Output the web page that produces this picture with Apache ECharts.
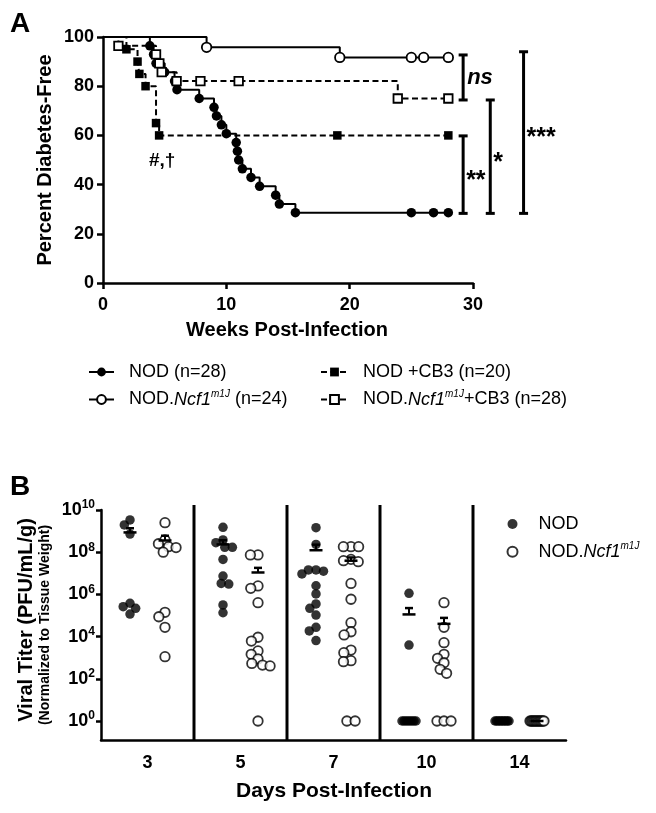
<!DOCTYPE html>
<html><head><meta charset="utf-8">
<script src="https://cdn.jsdelivr.net/npm/echarts@6/dist/echarts.min.js"></script>
<style>html,body{margin:0;padding:0;background:#fff}#c{width:656px;height:813px}</style>
</head><body><div id="c"></div>
<script>
const FONT = "'Liberation Sans', Arial, Helvetica, sans-serif";

// ---------- Panel A: Kaplan-Meier (weeks post-infection, percent diabetes-free) ----------
const nodWeeks    = [0, 3.8, 4.1, 4.3, 5.0, 5.8, 6.0, 7.8, 9.0, 9.2, 9.6, 10.0, 10.8, 10.9, 11.0, 11.3, 12.0, 12.7, 14.0, 14.3, 15.6, 25.0, 26.8, 28.0];
const nodPct      = [100, 96.4, 92.9, 89.3, 85.7, 82.1, 78.6, 75.0, 71.4, 67.9, 64.3, 60.7, 57.1, 53.6, 50.0, 46.4, 42.9, 39.3, 35.7, 32.1, 28.6, 28.6, 28.6, 28.6];
const ncfWeeks    = [0, 8.4, 19.2, 25.0, 26.0, 28.0];
const ncfPct      = [100, 95.8, 91.7, 91.7, 91.7, 91.7];
const nodCb3Weeks = [0, 1.9, 2.8, 2.95, 3.45, 4.3, 4.55, 19.0, 28.0];
const nodCb3Pct   = [100, 95, 90, 85, 80, 65, 60, 60, 60];
const ncfCb3Weeks = [0, 1.25, 4.3, 4.57, 4.76, 5.97, 7.9, 11.0, 23.9, 28.0];
const ncfCb3Pct   = [100, 96.4, 92.9, 89.3, 85.7, 82.1, 82.1, 82.1, 75.0, 75.0];
const kmNames = ['NOD (n=28)', 'NOD.Ncf1m1J (n=24)', 'NOD +CB3 (n=20)', 'NOD.Ncf1m1J+CB3 (n=28)'];
const weekTicks = [0, 10, 20, 30];
const pctTicks = [0, 20, 40, 60, 80, 100];
// significance brackets (x in weeks, top/bottom in percent)
const sigX      = [29.2, 29.2, 31.4, 34.1];
const sigTop    = [92.7, 59.8, 74.4, 94.0];
const sigBottom = [74.4, 28.3, 28.3, 28.3];
const sigLabels = ['ns', '**', '*', '***'];
const noteText = '#,\u2020', noteWeek = 4.8, notePct = 49.6;

// ---------- Panel B: viral titer, log10(PFU/mL/g) ----------
const days = ['3', '5', '7', '10', '14'];
const nodLogTiter = [
  [9.53, 9.29, 8.86, 5.58, 5.42, 5.34, 5.07],
  [9.18, 8.58, 8.45, 8.23, 8.23, 7.66, 6.87, 6.52, 6.49, 5.50, 5.13],
  [9.16, 8.37, 7.16, 7.16, 7.10, 6.97, 6.41, 6.02, 5.55, 5.34, 5.02, 4.44, 4.27, 3.81],
  [6.05, 3.60, 0, 0, 0, 0, 0, 0, 0, 0],
  [0, 0, 0, 0, 0, 0, 0, 0, 0, 0]
];
const ncfLogTiter = [
  [9.40, 8.58, 8.40, 8.26, 8.22, 8.00, 5.15, 4.94, 4.44, 3.05],
  [7.87, 7.87, 6.40, 6.29, 5.61, 3.97, 3.79, 3.32, 3.16, 2.94, 2.73, 2.65, 2.61, 0],
  [8.26, 8.26, 8.26, 7.66, 7.60, 7.55, 6.52, 5.77, 4.66, 4.23, 4.08, 3.36, 3.24, 2.86, 2.81, 0, 0],
  [5.61, 4.44, 3.71, 3.16, 2.97, 2.76, 2.45, 2.26, 0, 0, 0],
  [0, 0, 0, 0, 0, 0, 0, 0, 0, 0, 0, 0]
];
const expTicks = [0, 2, 4, 6, 8, 10];

// ---------- layout ----------
const GA = {left: 103, top: 37, width: 370, height: 246};
const GB = {left: 101, top: 510, width: 465, height: 230};
const B_MIN = -0.9, B_MAX = 10;
const pxPerDecade = GB.height / (B_MAX - B_MIN);
const GROUP_OFF = 17.5;

function swarmOffsets(vals) {
  const D = 7.6;
  const off = vals.map(() => 0);
  const placed = [];
  const floor = [];
  vals.forEach((v, i) => { if (v === 0) floor.push(i); });
  if (floor.length) {
    const m = floor.length;
    const step = m > 1 ? Math.min(8.2, 14 / (m - 1)) : 0;
    floor.forEach((i, k) => { off[i] = (k - (m - 1) / 2) * step; placed.push({x: off[i], y: 0}); });
  }
  const order = vals.map((v, i) => i).filter(i => vals[i] !== 0).sort((a, b) => vals[b] - vals[a]);
  order.forEach(i => {
    const y = vals[i] * pxPerDecade;
    const cands = [0];
    placed.forEach(p => {
      const dy = Math.abs(p.y - y);
      if (dy < D) { const dx = Math.sqrt(D * D - dy * dy); cands.push(p.x + dx, p.x - dx); }
    });
    const ok = cands.filter(c => placed.every(p => Math.hypot(p.x - c, p.y - y) >= D - 1e-6));
    ok.sort((a, b) => Math.abs(a) - Math.abs(b) || a - b);
    const x = ok.length ? ok[0] : 0;
    off[i] = x; placed.push({x, y});
  });
  return off;
}
function meanSem(logs) {
  const v = logs.map(l => Math.pow(10, l));
  const n = v.length;
  const m = v.reduce((a, b) => a + b, 0) / n;
  const sd = Math.sqrt(v.reduce((a, b) => a + (b - m) * (b - m), 0) / (n - 1));
  return [m, sd / Math.sqrt(n)];
}
function scatterData(groups, sign) {
  const out = [];
  groups.forEach((vals, d) => {
    const offs = swarmOffsets(vals);
    vals.forEach((v, i) => out.push({value: [d, v], symbolOffset: [sign * GROUP_OFF + offs[i], 0]}));
  });
  return out;
}
function meanData(groups, sign) {
  return groups.map((vals, d) => {
    const [m, s] = meanSem(vals);
    return [d, Math.log10(m), Math.log10(m + s), sign];
  });
}

function kmSeries(name, weeks, pct, symbol, filled, dashed) {
  return {
    type: 'line', name, xAxisIndex: 0, yAxisIndex: 0, step: 'end',
    data: weeks.map((w, i) => i === 0 ? {value: [w, pct[i]], symbol: 'none'} : [w, pct[i]]),
    symbol, symbolSize: symbol === 'circle' ? 9.5 : 8.5,
    itemStyle: filled ? {color: '#000', borderWidth: 0} : {color: '#fff', borderColor: '#000', borderWidth: 1.8},
    lineStyle: {color: '#000', width: 2, type: dashed ? [6, 3.5] : 'solid'},
    emphasis: {disabled: true}, z: 3
  };
}

const legendRich = {
  g: {width: 10},
  gb: {width: 16},
  i: {fontStyle: 'italic', fontSize: 18, lineHeight: 21, color: '#000', fontFamily: FONT},
  s: {fontStyle: 'italic', fontSize: 10, lineHeight: 11, verticalAlign: 'top', color: '#000', fontFamily: FONT}
};
function richName(name, gap) {
  return '{' + gap + '| }' + name.replace('Ncf1m1J', '{i|Ncf1}{s|m1J}');
}
const legendText = {fontSize: 18, lineHeight: 21, color: '#000', fontFamily: FONT, rich: legendRich};

const axisBlack = {lineStyle: {color: '#000', width: 2.5}};
const labelStyle = {color: '#000', fontSize: 18, fontWeight: 'bold', fontFamily: FONT};

const chart = echarts.init(document.getElementById('c'), null, {renderer: 'canvas'});
chart.setOption({
  animation: false,
  backgroundColor: '#fff',
  grid: [
    Object.assign({}, GA, {containLabel: false}),
    Object.assign({}, GB, {containLabel: false})
  ],
  xAxis: [
    {type: 'value', gridIndex: 0, min: weekTicks[0], max: weekTicks[weekTicks.length - 1], interval: 10,
     axisLine: Object.assign({onZero: false}, axisBlack), axisTick: Object.assign({length: 6}, axisBlack),
     axisLabel: Object.assign({margin: 13}, labelStyle), splitLine: {show: false}},
    {type: 'category', gridIndex: 1, data: days, boundaryGap: true,
     axisLine: Object.assign({onZero: false}, axisBlack),
     axisTick: Object.assign({length: 6, alignWithLabel: true}, axisBlack),
     axisLabel: Object.assign({margin: 14, interval: 0}, labelStyle), splitLine: {show: false}}
  ],
  yAxis: [
    {type: 'value', gridIndex: 0, min: pctTicks[0], max: pctTicks[pctTicks.length - 1], interval: 20,
     axisLine: Object.assign({show: true, onZero: false}, axisBlack), axisTick: Object.assign({show: true, length: 6}, axisBlack),
     axisLabel: Object.assign({margin: 9}, labelStyle), splitLine: {show: false}},
    {type: 'value', gridIndex: 1, min: B_MIN, max: B_MAX,
     axisLine: Object.assign({show: true, onZero: false}, axisBlack),
     axisTick: Object.assign({show: true, length: 5, customValues: expTicks}, axisBlack),
     axisLabel: {show: true, margin: 6, customValues: expTicks,
       formatter: v => '{b|10}{s|' + v + '}',
       rich: {
         b: {fontSize: 18, fontWeight: 'bold', color: '#000', fontFamily: FONT, lineHeight: 22},
         s: {fontSize: 12, fontWeight: 'bold', color: '#000', fontFamily: FONT, lineHeight: 13, verticalAlign: 'top'}
       }},
     splitLine: {show: false}}
  ],
  legend: [
    {data: [kmNames[0], kmNames[1]], left: 88, top: 361.5, orient: 'vertical', padding: 0,
     itemWidth: 25, itemHeight: 11, itemGap: 6.5, selectedMode: false,
     formatter: n => richName(n, 'g'), textStyle: legendText},
    {data: [kmNames[2], kmNames[3]], left: 320, top: 361.5, orient: 'vertical', padding: 0,
     itemWidth: 27, itemHeight: 11, itemGap: 6.5, selectedMode: false,
     formatter: n => richName(n, 'g'), textStyle: legendText},
    {data: ['NOD', 'NOD.Ncf1m1J'], left: 506.5, top: 513.5, orient: 'vertical', padding: 0,
     itemWidth: 10, itemHeight: 10, itemGap: 6.7, selectedMode: false,
     formatter: n => richName(n, 'gb'), textStyle: legendText}
  ],
  graphic: [
    {type: 'text', x: 10, y: 24.5, style: {text: 'A', fill: '#000', font: 'bold 28px ' + FONT, align: 'left', verticalAlign: 'middle'}},
    {type: 'text', x: 45, y: 160, rotation: Math.PI / 2, style: {text: 'Percent Diabetes-Free', fill: '#000', font: 'bold 20px ' + FONT, align: 'center', verticalAlign: 'middle'}},
    {type: 'text', x: 287, y: 330, style: {text: 'Weeks Post-Infection', fill: '#000', font: 'bold 20px ' + FONT, align: 'center', verticalAlign: 'middle'}},
    {type: 'text', x: 10, y: 487.5, style: {text: 'B', fill: '#000', font: 'bold 28px ' + FONT, align: 'left', verticalAlign: 'middle'}},
    {type: 'text', x: 26, y: 620, rotation: Math.PI / 2, style: {text: 'Viral Titer (PFU/mL/g)', fill: '#000', font: 'bold 20px ' + FONT, align: 'center', verticalAlign: 'middle'}},
    {type: 'text', x: 45, y: 625, rotation: Math.PI / 2, style: {text: '(Normalized to Tissue Weight)', fill: '#000', font: 'bold 14px ' + FONT, align: 'center', verticalAlign: 'middle'}},
    {type: 'text', x: 334, y: 791, style: {text: 'Days Post-Infection', fill: '#000', font: 'bold 21px ' + FONT, align: 'center', verticalAlign: 'middle'}}
  ],
  series: [
    kmSeries(kmNames[0], nodWeeks, nodPct, 'circle', true, false),
    kmSeries(kmNames[1], ncfWeeks, ncfPct, 'circle', false, false),
    kmSeries(kmNames[2], nodCb3Weeks, nodCb3Pct, 'rect', true, true),
    kmSeries(kmNames[3], ncfCb3Weeks, ncfCb3Pct, 'rect', false, true),
    {
      type: 'custom', name: 'sig', xAxisIndex: 0, yAxisIndex: 0, clip: false, z: 4,
      data: sigX.map((x, i) => [x, sigTop[i], sigBottom[i]]),
      encode: {x: 0, y: [1, 2]},
      renderItem: (params, api) => {
        const t = api.coord([api.value(0), api.value(1)]);
        const b = api.coord([api.value(0), api.value(2)]);
        const lbl = sigLabels[params.dataIndex];
        const ns = lbl === 'ns';
        const st = {stroke: '#000', lineWidth: 3};
        return {type: 'group', children: [
          {type: 'line', shape: {x1: t[0], y1: t[1], x2: b[0], y2: b[1]}, style: st},
          {type: 'line', shape: {x1: t[0] - 4.5, y1: t[1], x2: t[0] + 4.5, y2: t[1]}, style: st},
          {type: 'line', shape: {x1: b[0] - 4.5, y1: b[1], x2: b[0] + 4.5, y2: b[1]}, style: st},
          {type: 'text', x: t[0] + (ns ? 4 : 3), y: (t[1] + b[1]) / 2 + (ns ? 0 : 6),
           style: {text: lbl, fill: '#000', font: (ns ? 'italic bold 22px ' : 'bold 25px ') + FONT, align: 'left', verticalAlign: 'middle'}}
        ]};
      }
    },
    {
      type: 'custom', name: 'note', xAxisIndex: 0, yAxisIndex: 0, clip: false, z: 4,
      data: [[noteWeek, notePct]],
      renderItem: (params, api) => {
        const p = api.coord([api.value(0), api.value(1)]);
        return {type: 'text', x: p[0], y: p[1], style: {text: noteText, fill: '#000', font: 'bold 19px ' + FONT, align: 'center', verticalAlign: 'middle'}};
      }
    },
    {
      type: 'custom', name: 'separators', xAxisIndex: 1, yAxisIndex: 1, clip: false, z: 1,
      data: days.slice(1).map((d, i) => [i, 0]),
      renderItem: (params, api) => {
        const cs = params.coordSys;
        const a = api.coord([api.value(0), 0]);
        const c = api.coord([api.value(0) + 1, 0]);
        const x = (a[0] + c[0]) / 2;
        return {type: 'line', shape: {x1: x, y1: cs.y - 5, x2: x, y2: cs.y + cs.height}, style: {stroke: '#000', lineWidth: 3}};
      }
    },
    {type: 'scatter', name: 'NOD', xAxisIndex: 1, yAxisIndex: 1, symbol: 'circle', symbolSize: 9.5,
     itemStyle: {color: '#000'}, emphasis: {disabled: true}, z: 2, data: scatterData(nodLogTiter, -1)},
    {type: 'scatter', name: 'NOD.Ncf1m1J', xAxisIndex: 1, yAxisIndex: 1, symbol: 'circle', symbolSize: 9.5,
     itemStyle: {color: '#fff', borderColor: '#000', borderWidth: 1.8}, emphasis: {disabled: true}, z: 2,
     data: scatterData(ncfLogTiter, 1)},
    {
      type: 'custom', name: 'meanSem', xAxisIndex: 1, yAxisIndex: 1, clip: false, z: 5,
      data: meanData(nodLogTiter, -1).concat(meanData(ncfLogTiter, 1)),
      encode: {x: 0, y: [1, 2]},
      renderItem: (params, api) => {
        const off = api.value(3) * GROUP_OFF;
        const m = api.coord([api.value(0), api.value(1)]);
        const u = api.coord([api.value(0), api.value(2)]);
        const x = m[0] + off;
        const kids = [{type: 'line', shape: {x1: x - 6.5, y1: m[1], x2: x + 6.5, y2: m[1]}, style: {stroke: '#000', lineWidth: 2.5}}];
        if (m[1] - u[1] > 1) {
          kids.push({type: 'line', shape: {x1: x, y1: m[1], x2: x, y2: u[1]}, style: {stroke: '#000', lineWidth: 2}});
          kids.push({type: 'line', shape: {x1: x - 4, y1: u[1], x2: x + 4, y2: u[1]}, style: {stroke: '#000', lineWidth: 2.5}});
        }
        return {type: 'group', children: kids};
      }
    }
  ]
});
</script>
</body></html>
